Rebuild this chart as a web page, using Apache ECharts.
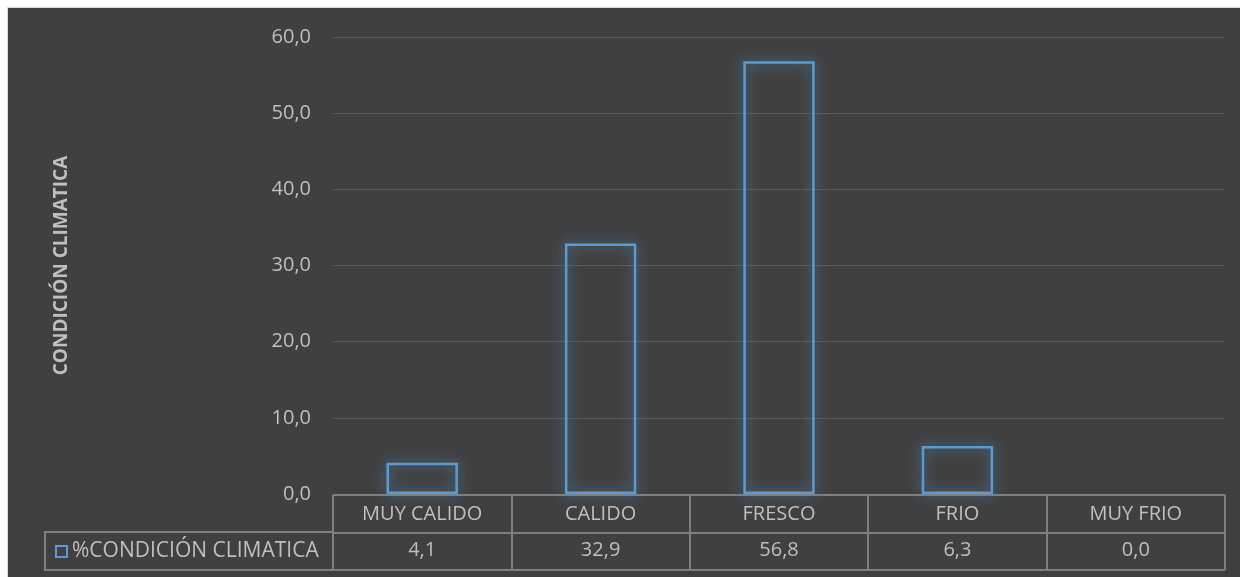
<!DOCTYPE html>
<html>
<head>
<meta charset="utf-8">
<script src="https://cdn.jsdelivr.net/npm/echarts@6/dist/echarts.min.js"></script>
<style>
  html, body { margin: 0; padding: 0; background: #ffffff; }
  #chart { position: absolute; left: 7px; top: 7px; width: 1233px; height: 570px;
           border-left: 1px solid #d9d9d9; border-top: 1px solid #d9d9d9; }
</style>
</head>
<body>
<div id="chart"></div>
<script>
// datos del grafico
var categorias = ["MUY CALIDO", "CALIDO", "FRESCO", "FRIO", "MUY FRIO"];
var porcentajes = [4.1, 32.9, 56.8, 6.3, 0.0];
var nombreSerie = "%CONDICIÓN CLIMATICA";
var tituloEje = "CONDICIÓN CLIMATICA";

var fuente = "'Open Sans', 'Noto Sans', sans-serif";
var gris = "#bfbfbf";
var azul = "#5b9bd5";

// formato con coma decimal
function coma(v) {
  return v.toFixed(1).replace(".", ",");
}

var chart = echarts.init(document.getElementById("chart"));
chart.setOption({
  backgroundColor: "#404040",
  animation: false,
  textStyle: { fontFamily: fuente },
  grid: [
    // area de barras
    { left: 325, right: 16, top: 29, bottom: 84 },
    // tabla de datos
    { left: 325, right: 16, top: 487, height: 75, show: false }
  ],
  legend: {
    left: 42,
    top: 528,
    icon: "rect",
    itemWidth: 11,
    itemHeight: 11,
    itemGap: 6,
    textStyle: { color: gris, fontSize: 21, fontFamily: fuente },
    data: [{ name: nombreSerie, itemStyle: { color: "transparent", borderColor: azul, borderWidth: 2 } }]
  },
  xAxis: [
    {
      gridIndex: 0,
      type: "category",
      data: categorias,
      axisLine: { show: false },
      axisTick: { show: false },
      axisLabel: { color: gris, fontSize: 20, margin: 10 }
    },
    {
      gridIndex: 1,
      type: "category",
      data: porcentajes,
      position: "bottom",
      axisLine: { show: false },
      axisTick: { show: false },
      axisLabel: { inside: true, margin: 10, color: gris, fontSize: 20,
                   formatter: function (v) { return coma(Number(v)); } },
      splitLine: { show: true, lineStyle: { color: "#7f7f7f", width: 2 } }
    }
  ],
  yAxis: [
    {
      gridIndex: 0,
      type: "value",
      min: 0,
      max: 60,
      interval: 10,
      name: tituloEje,
      nameLocation: "middle",
      nameGap: 262,
      nameTextStyle: { color: gris, fontSize: 19, fontWeight: "bold" },
      axisLine: { show: false },
      axisTick: { show: false },
      axisLabel: { color: gris, fontSize: 20, margin: 22,
                   formatter: function (v) { return coma(v); } },
      splitLine: { lineStyle: { color: "#595959", width: 1 } }
    },
    {
      gridIndex: 1,
      type: "value",
      min: 0,
      max: 2,
      interval: 1,
      axisLine: { show: false },
      axisTick: { show: false },
      axisLabel: { show: false },
      splitLine: { lineStyle: { color: "#7f7f7f", width: 2 } }
    }
  ],
  graphic: [
    // celda de la leyenda en la tabla
    {
      type: "polyline",
      shape: { points: [[326, 524], [37, 524], [37, 562], [326, 562]] },
      style: { stroke: "#7f7f7f", lineWidth: 2, fill: null }
    }
  ],
  series: [
    {
      name: nombreSerie,
      type: "bar",
      xAxisIndex: 0,
      yAxisIndex: 0,
      // sin contorno cuando el valor es cero
      data: porcentajes.map(function (v) {
        return v === 0 ? { value: v, itemStyle: { borderWidth: 0, shadowBlur: 0 } } : v;
      }),
      barWidth: "40%",
      itemStyle: {
        color: "rgba(0,0,0,0)",
        borderColor: azul,
        borderWidth: 2.5,
        shadowBlur: 14,
        shadowColor: "rgba(91,155,213,0.9)"
      }
    }
  ]
});
</script>
</body>
</html>
